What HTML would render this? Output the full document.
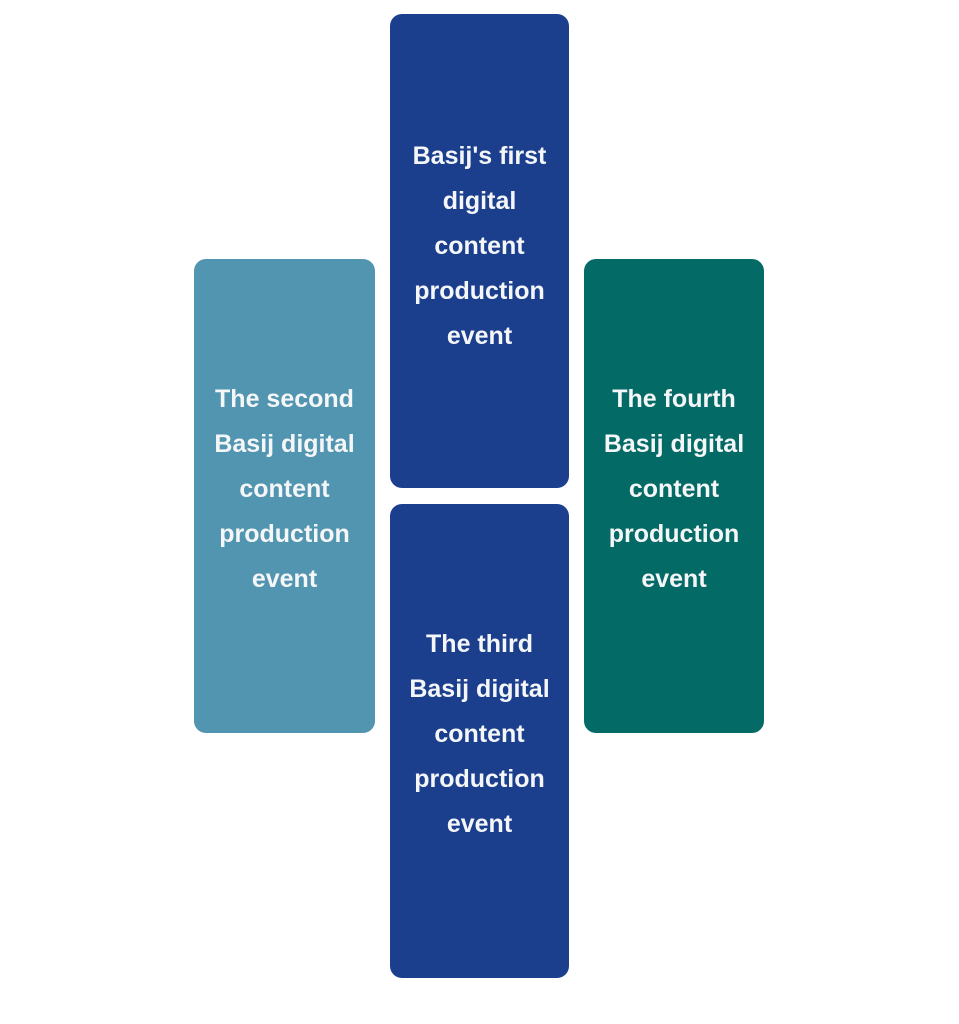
<!DOCTYPE html>
<html><head><meta charset="utf-8"><style>
html,body{margin:0;padding:0;background:#fff;width:959px;height:1024px;overflow:hidden}
.b{position:absolute;border-radius:12px;color:#f4f6f8;font-family:"Liberation Sans",sans-serif;font-weight:bold;font-size:25px;line-height:45px;text-align:center;box-sizing:border-box}
.b div{position:absolute;left:-10px;right:-10px}
</style></head><body>
<div class="b" style="left:390px;top:14px;width:179px;height:474px;background:#1b3f8d"><div style="top:120px">Basij's first<br>digital<br>content<br>production<br>event</div></div>
<div class="b" style="left:390px;top:504px;width:179px;height:474px;background:#1b3f8d"><div style="top:118px">The third<br>Basij digital<br>content<br>production<br>event</div></div>
<div class="b" style="left:194px;top:259px;width:181px;height:474px;background:#5295b0"><div style="top:118px">The second<br>Basij digital<br>content<br>production<br>event</div></div>
<div class="b" style="left:584px;top:259px;width:180px;height:474px;background:#036a66"><div style="top:118px">The fourth<br>Basij digital<br>content<br>production<br>event</div></div>
</body></html>
